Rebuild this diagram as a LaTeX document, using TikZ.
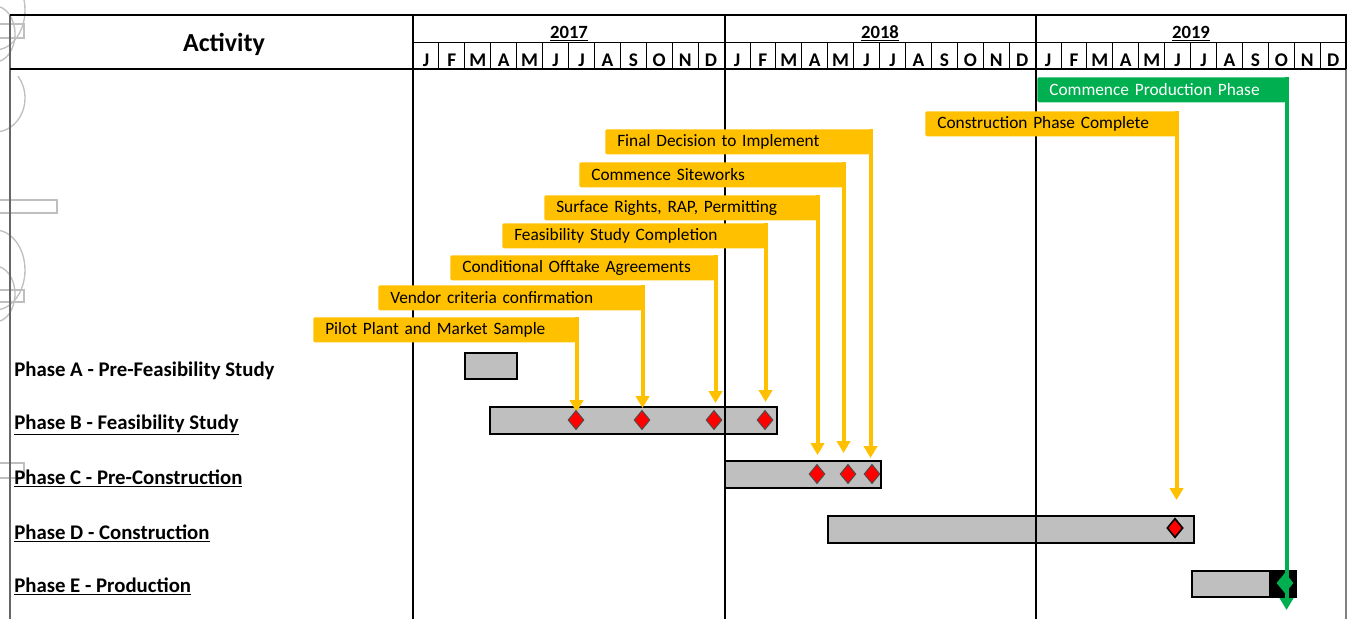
\documentclass[tikz,border=0pt]{standalone}
\usepackage{fontspec}
\setmainfont{Carlito}
\usetikzlibrary{arrows.meta,shapes.geometric}
\definecolor{giallo}{HTML}{FFC000}
\definecolor{verde}{HTML}{00B050}
\definecolor{grigiobarra}{HTML}{BFBFBF}

\begin{document}
\begin{tikzpicture}[
    x=0.75pt, y=-0.75pt,
    >={Triangle[width=10pt,length=9pt]},
    % Linee della griglia
    bordo/.style={line width=2.2pt},
    riga/.style={line width=0.7pt},
    % Testi
    attivita/.style={font=\bfseries\fontsize{19.5}{22}\selectfont, anchor=base},
    anno/.style={font=\bfseries\fontsize{14}{16}\selectfont, anchor=base},
    mese/.style={font=\bfseries\fontsize{14.5}{16}\selectfont, anchor=base},
    fase/.style={font=\bfseries\fontsize{15.6}{18}\selectfont, anchor=base west, inner sep=0pt},
    % Barre e milestone
    barra/.style={draw, fill=grigiobarra, line width=2pt},
    rombo/.style={diamond, draw=black!70, fill=red, line width=0.7pt,
        minimum width=12pt, minimum height=14.5pt, inner sep=0pt},
    % Etichette delle milestone (callout)
    etichetta/.style={fill=giallo, rounded corners=1.5pt, anchor=north west,
        minimum height=18.75pt, inner ysep=0pt, inner xsep=9pt,
        text width=#1*0.75pt-18pt, font=\fontsize{13}{16}\selectfont},
    freccia/.style={draw=giallo, line width=3pt, ->}
]
    \useasboundingbox (0,0) rectangle (1349,619);

    % ========================================================
    % 0. Filigrana (in grigio chiaro, a sinistra)
    % ========================================================
    \begin{scope}[draw=black!25, line width=1pt]
        \draw (-5,24) rectangle (24,38);
        \draw (-5,50) arc (90:-90:30 and 40);
        \draw (-5,62) arc (90:-90:20 and 28);
        \draw (-5,132) arc (90:-40:30 and 34);
        \draw (-5,200) rectangle (57,213);
        \draw (-5,290) rectangle (24,302);
        \draw (-5,310) arc (90:-90:30 and 40);
        \draw (-5,322) arc (90:-90:20 and 28);
        \draw (-5,463) rectangle (24,478);
    \end{scope}

    % ========================================================
    % 1. Barre delle fasi
    % ========================================================
    \draw[barra] (465,353) rectangle (517,379);
    \draw[barra] (490,407) rectangle (777,434);
    \draw[barra] (725,461) rectangle (881,488);
    \draw[barra] (828,516) rectangle (1194,543);
    \fill[grigiobarra] (1192,571) rectangle (1269,597);
    \fill[black] (1269,571) rectangle (1296,597);
    \draw[line width=2pt] (1192,571) rectangle (1296,597);

    % ========================================================
    % 2. Griglia e intestazione
    % ========================================================
    \draw[black!60, line width=0.8pt] (10,15) -- (10,619);
    \draw[black!50, line width=0.8pt] (1346,69) -- (1346,619);
    \draw[bordo] (10,15) -- (1346,15) -- (1346,69);
    \draw[bordo] (10,69) -- (1346,69);
    \draw[bordo] (413,15) -- (413,619);
    \draw[line width=0.9pt] (725,15) -- (725,619);
    \draw[bordo] (1036,15) -- (1036,619);
    \draw[riga] (413,42) -- (1346,42);
    \foreach \k in {1,...,35}
        \draw[riga] ({413+25.92*\k},42) -- ({413+25.92*\k},69);

    \node[attivita] (activity) at (224,51) {Activity};
    \node[anno] (y2017) at (569,38) {\underline{2017}};
    \node[anno] (y2018) at (880,38) {\underline{2018}};
    \node[anno] (y2019) at (1191,38) {\underline{2019}};
    \foreach \a in {0,1,2}
        \foreach \m [count=\i from 0] in {J,F,M,A,M,J,J,A,S,O,N,D}
            \node[mese] (m\a-\i) at ({413+25.92*(12*\a+\i+0.5)},66) {\m};

    % Nomi delle fasi
    \node[fase] (faseA) at (14,376) {Phase A - Pre-Feasibility Study};
    \node[fase] (faseB) at (14,429) {\underline{Phase B - Feasibility Study}};
    \node[fase] (faseC) at (14,484) {\underline{Phase C - Pre-Construction}};
    \node[fase] (faseD) at (14,539) {\underline{Phase D - Construction}};
    \node[fase] (faseE) at (14,592) {\underline{Phase E - Production}};

    % ========================================================
    % 3. Etichette delle milestone e frecce
    % ========================================================
    \node[etichetta=263] (pilota) at (313,317) {Pilot Plant and Market Sample};
    \node[etichetta=264] (fornitori) at (378,285) {Vendor criteria confirmation};
    \node[etichetta=265] (offtake) at (450,255) {Conditional Offtake Agreements};
    \node[etichetta=263] (fattib) at (502,223) {Feasibility Study Completion};
    \node[etichetta=273] (superficie) at (544,195) {Surface Rights, RAP, Permitting};
    \node[etichetta=264] (cantiere) at (579,162) {Commence Siteworks};
    \node[etichetta=265] (decisione) at (605,129) {Final Decision to Implement};
    \node[etichetta=251] (costruz) at (925,111) {Construction Phase Complete};
    \node[etichetta=249, fill=verde, text=white] (produz) at (1037,77) {Commence Production Phase};

    % Punte delle frecce
    \coordinate (pPilota) at (576,412);
    \coordinate (pFornitori) at (642,408);
    \coordinate (pOfftake) at (715,403);
    \coordinate (pFattib) at (765,402);
    \coordinate (pSuperficie) at (817,455);
    \coordinate (pCantiere) at (843,453);
    \coordinate (pDecisione) at (870,458);
    \coordinate (pCostruz) at (1176,500);
    \coordinate (pProduz) at (1286,610);

    \draw[freccia] (pilota.north east) -- (pilota.north east |- pPilota);
    \draw[freccia] (fornitori.north east) -- (fornitori.north east |- pFornitori);
    \draw[freccia] (offtake.north east) -- (offtake.north east |- pOfftake);
    \draw[freccia] (fattib.north east) -- (fattib.north east |- pFattib);
    \draw[freccia] (superficie.north east) -- (superficie.north east |- pSuperficie);
    \draw[freccia] (cantiere.north east) -- (cantiere.north east |- pCantiere);
    \draw[freccia] (decisione.north east) -- (decisione.north east |- pDecisione);
    \draw[freccia] (costruz.north east) -- (costruz.north east |- pCostruz);
    \draw[freccia, draw=verde] (produz.north east) -- (produz.north east |- pProduz);

    % ========================================================
    % 4. Milestone (rombi)
    % ========================================================
    \node[rombo] (mB1) at (576,420) {};
    \node[rombo] (mB2) at (642,420) {};
    \node[rombo] (mB3) at (714,420) {};
    \node[rombo] (mB4) at (765,420) {};
    \node[rombo] (mC1) at (817,474) {};
    \node[rombo] (mC2) at (848,474) {};
    \node[rombo] (mC3) at (872,474) {};
    \node[rombo, draw=black, line width=1.2pt] (mD1) at (1175,528) {};
    \node[rombo, fill=verde, draw=verde] (mE1) at (1285,583) {};

\end{tikzpicture}
\end{document}
